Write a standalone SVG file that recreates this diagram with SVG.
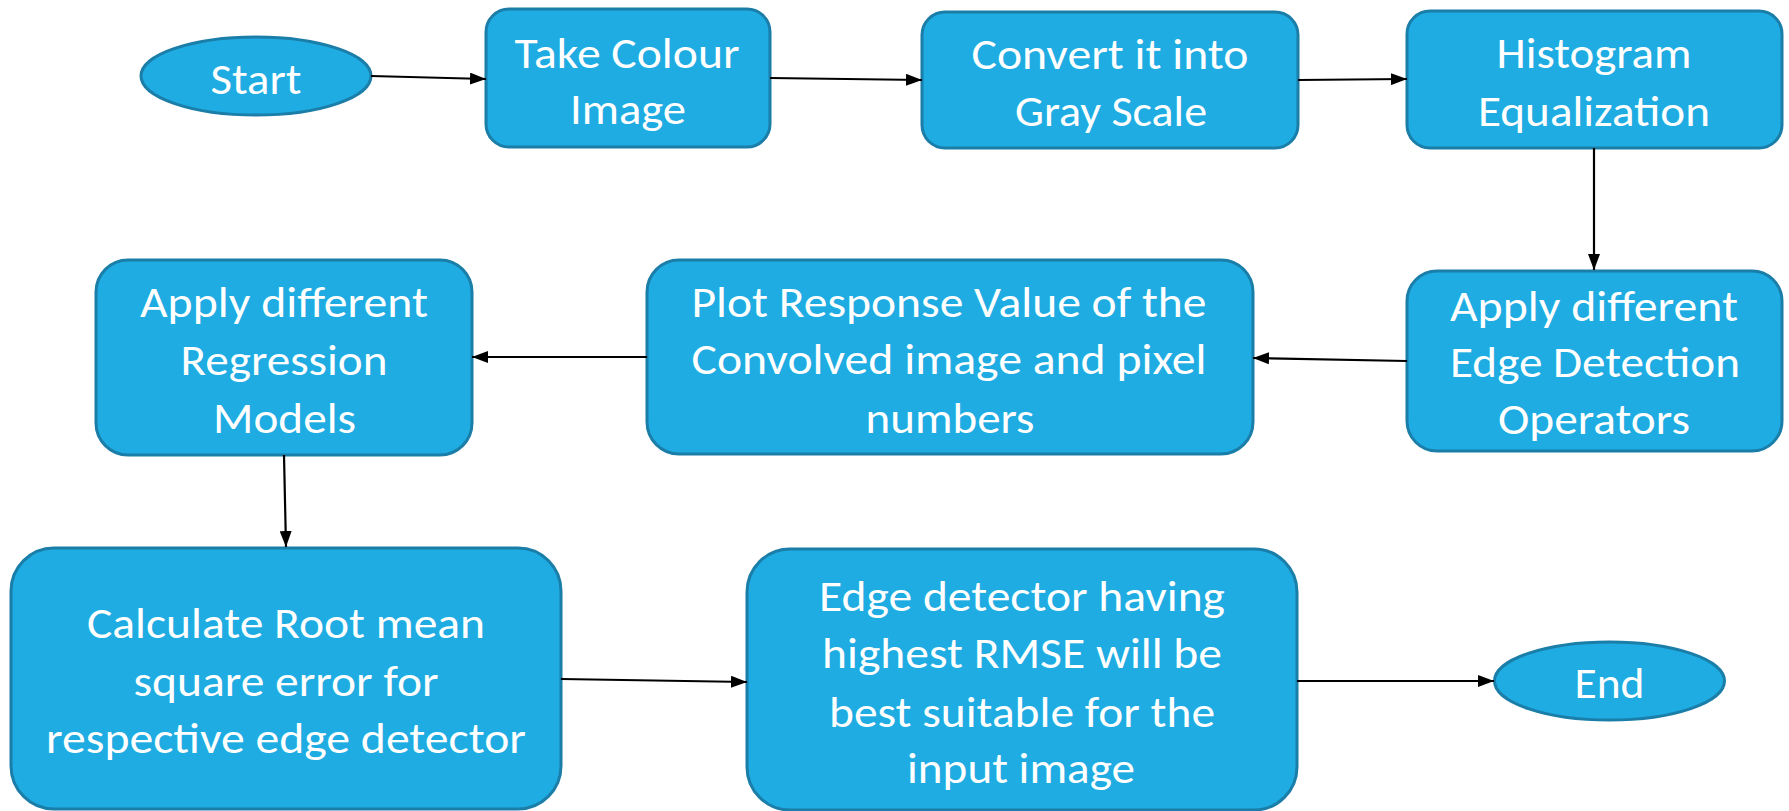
<svg xmlns="http://www.w3.org/2000/svg" width="1789" height="811" viewBox="0 0 1789 811">
<style>
.n{fill:#1eace2;stroke:#1b7ea8;stroke-width:3}
.t{fill:#ffffff;font-family:Carlito,Lato,"Open Sans",sans-serif;font-size:43px;text-anchor:middle}
.c{stroke:#000;stroke-width:2.2;fill:none;marker-end:url(#ah)}
</style>
<defs>
<marker id="ah" markerUnits="userSpaceOnUse" markerWidth="16" markerHeight="12" refX="16" refY="6" orient="auto">
<path d="M0,0 L16,6 L0,12 z" fill="#000"/>
</marker>
</defs>
<rect width="1789" height="811" fill="#fff"/>
<g id="start">
<ellipse class="n" cx="256" cy="76" rx="115" ry="39"/>
<text class="t" x="256" y="94" textLength="91" lengthAdjust="spacingAndGlyphs">Start</text>
</g>
<g id="take">
<rect class="n" x="486" y="9" width="284" height="138" rx="23"/>
<text class="t" x="627" y="68" textLength="225" lengthAdjust="spacingAndGlyphs">Take Colour</text>
<text class="t" x="628" y="124" textLength="116" lengthAdjust="spacingAndGlyphs">Image</text>
</g>
<g id="convert">
<rect class="n" x="922" y="12" width="376" height="136" rx="23"/>
<text class="t" x="1110" y="69" textLength="277" lengthAdjust="spacingAndGlyphs">Convert it into</text>
<text class="t" x="1111" y="126" textLength="192" lengthAdjust="spacingAndGlyphs">Gray Scale</text>
</g>
<g id="histogram">
<rect class="n" x="1407" y="11" width="375" height="137" rx="23"/>
<text class="t" x="1594" y="68" textLength="195" lengthAdjust="spacingAndGlyphs">Histogram</text>
<text class="t" x="1594" y="126" textLength="232" lengthAdjust="spacingAndGlyphs">Equalization</text>
</g>
<g id="edgeops">
<rect class="n" x="1407" y="271" width="375" height="180" rx="30"/>
<text class="t" x="1594" y="321" textLength="288" lengthAdjust="spacingAndGlyphs">Apply different</text>
<text class="t" x="1595" y="377" textLength="290" lengthAdjust="spacingAndGlyphs">Edge Detection</text>
<text class="t" x="1594" y="434" textLength="192" lengthAdjust="spacingAndGlyphs">Operators</text>
</g>
<g id="plot">
<rect class="n" x="647" y="260" width="606" height="194" rx="32"/>
<text class="t" x="949" y="317" textLength="515" lengthAdjust="spacingAndGlyphs">Plot Response Value of the</text>
<text class="t" x="949" y="374" textLength="515" lengthAdjust="spacingAndGlyphs">Convolved image and pixel</text>
<text class="t" x="950" y="433" textLength="169" lengthAdjust="spacingAndGlyphs">numbers</text>
</g>
<g id="regression">
<rect class="n" x="96" y="260" width="376" height="195" rx="32"/>
<text class="t" x="284" y="317" textLength="288" lengthAdjust="spacingAndGlyphs">Apply different</text>
<text class="t" x="284" y="375" textLength="207" lengthAdjust="spacingAndGlyphs">Regression</text>
<text class="t" x="284.5" y="433" textLength="143" lengthAdjust="spacingAndGlyphs">Models</text>
</g>
<g id="calculate">
<rect class="n" x="11" y="548" width="550" height="261" rx="43"/>
<text class="t" x="286" y="638" textLength="398" lengthAdjust="spacingAndGlyphs">Calculate Root mean</text>
<text class="t" x="286" y="696" textLength="305" lengthAdjust="spacingAndGlyphs">square error for</text>
<text class="t" x="286" y="753" textLength="480" lengthAdjust="spacingAndGlyphs">respective edge detector</text>
</g>
<g id="best">
<rect class="n" x="747" y="549" width="550" height="261" rx="43"/>
<text class="t" x="1022" y="611" textLength="406" lengthAdjust="spacingAndGlyphs">Edge detector having</text>
<text class="t" x="1022" y="668" textLength="400" lengthAdjust="spacingAndGlyphs">highest RMSE will be</text>
<text class="t" x="1022" y="727" textLength="386" lengthAdjust="spacingAndGlyphs">best suitable for the</text>
<text class="t" x="1021" y="783" textLength="228" lengthAdjust="spacingAndGlyphs">input image</text>
</g>
<g id="end">
<ellipse class="n" cx="1609.5" cy="681" rx="115" ry="39"/>
<text class="t" x="1609.5" y="698" textLength="70" lengthAdjust="spacingAndGlyphs">End</text>
</g>
<g id="connectors">
<path class="c" d="M371,76 L486,79"/>
<path class="c" d="M770,78 L922,80"/>
<path class="c" d="M1298,80 L1407,79"/>
<path class="c" d="M1594,148 L1594,270"/>
<path class="c" d="M1407,361 L1253,358"/>
<path class="c" d="M647,357 L472,357"/>
<path class="c" d="M284,455 L286,547"/>
<path class="c" d="M561,679 L747,682"/>
<path class="c" d="M1297,681 L1494,681"/>
</g>
</svg>
